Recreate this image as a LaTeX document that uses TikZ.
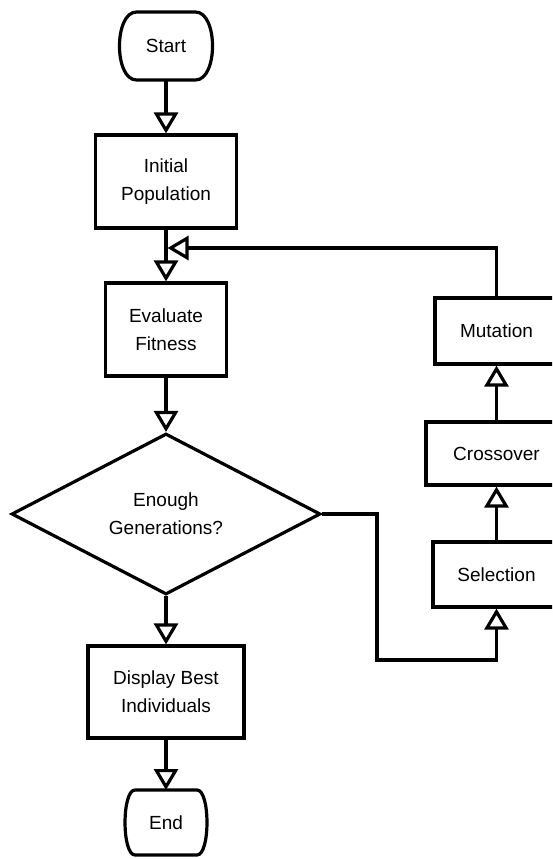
\documentclass[tikz,border=0pt]{standalone}
\usepackage{fontspec}
\setmainfont{Liberation Sans}
\usetikzlibrary{arrows.meta,shapes.geometric,calc}
\newcommand\termshape[3]{%
  \draw[line width=3.2pt] ($(#1.north west)+(#2,0)$) -- ($(#1.north east)+(-#2,0)$)
    .. controls ($(#1.north east)+(-#2+#3,0)$) and ($(#1.south east)+(-#2+#3,0)$) .. ($(#1.south east)+(-#2,0)$)
    -- ($(#1.south west)+(#2,0)$)
    .. controls ($(#1.south west)+(#2-#3,0)$) and ($(#1.north west)+(#2-#3,0)$) .. cycle;}
\begin{document}
\begin{tikzpicture}[x=1pt,y=-1pt,
  every node/.style={font=\fontsize{19}{28}\selectfont, align=center, inner sep=0pt},
  procbox/.style={draw, line width=3.2pt, rectangle},
  termbox/.style={rectangle, draw=none, outer sep=0pt},
  decision/.style={draw, line width=3.2pt, diamond, aspect=1.92},
  link/.style={line width=3.2pt, -{Triangle[open,length=21pt,width=24pt]}},
  plain/.style={line width=3.2pt}
  ]
\clip (0,0) rectangle (552,859);
\fill[white] (0,0) rectangle (552,859);

% left column
\node[termbox, minimum width=93pt, minimum height=68pt] (start) at (166,46) {Start};
\termshape{start}{17}{22.7}
\node[procbox, minimum width=141pt, minimum height=93pt] (init) at (166,181.5) {Initial\\Population};
\node[procbox, minimum width=121pt, minimum height=93pt] (eval) at (166,329.5) {Evaluate\\Fitness};
\node[decision, minimum width=309pt, minimum height=161pt] (dec) at (166,514) {Enough\\Generations?};
\node[procbox, minimum width=156pt, minimum height=92pt] (disp) at (166,692) {Display Best\\Individuals};
\node[termbox, minimum width=82pt, minimum height=65pt] (end) at (166,822.5) {End};
\termshape{end}{10}{13.3}

% right column
\node[procbox, minimum width=123pt, minimum height=66pt] (mut) at (496.5,331) {Mutation};
\node[procbox, minimum width=141pt, minimum height=63pt] (cross) at (496.5,453.5) {Crossover};
\node[procbox, minimum width=127pt, minimum height=65pt] (sel) at (496.5,574.5) {Selection};

% connectors
\draw[link] (start.south) -- (init.north);
\draw[link] (init.south) -- (eval.north);
\draw[link] (eval.south) -- (dec.north);
\draw[link] (dec.south) -- (disp.north);
\draw[link] (disp.south) -- (end.north);

\coordinate (j1) at (377,660);
\draw[link] (dec.east) -| (j1) -| (sel.south);
\draw[link] (sel.north) -- (cross.south);
\draw[link] (cross.north) -- (mut.south);

\coordinate (j2) at (167.5,248);
\draw[link] (mut.north) |- (j2);
\end{tikzpicture}
\end{document}
